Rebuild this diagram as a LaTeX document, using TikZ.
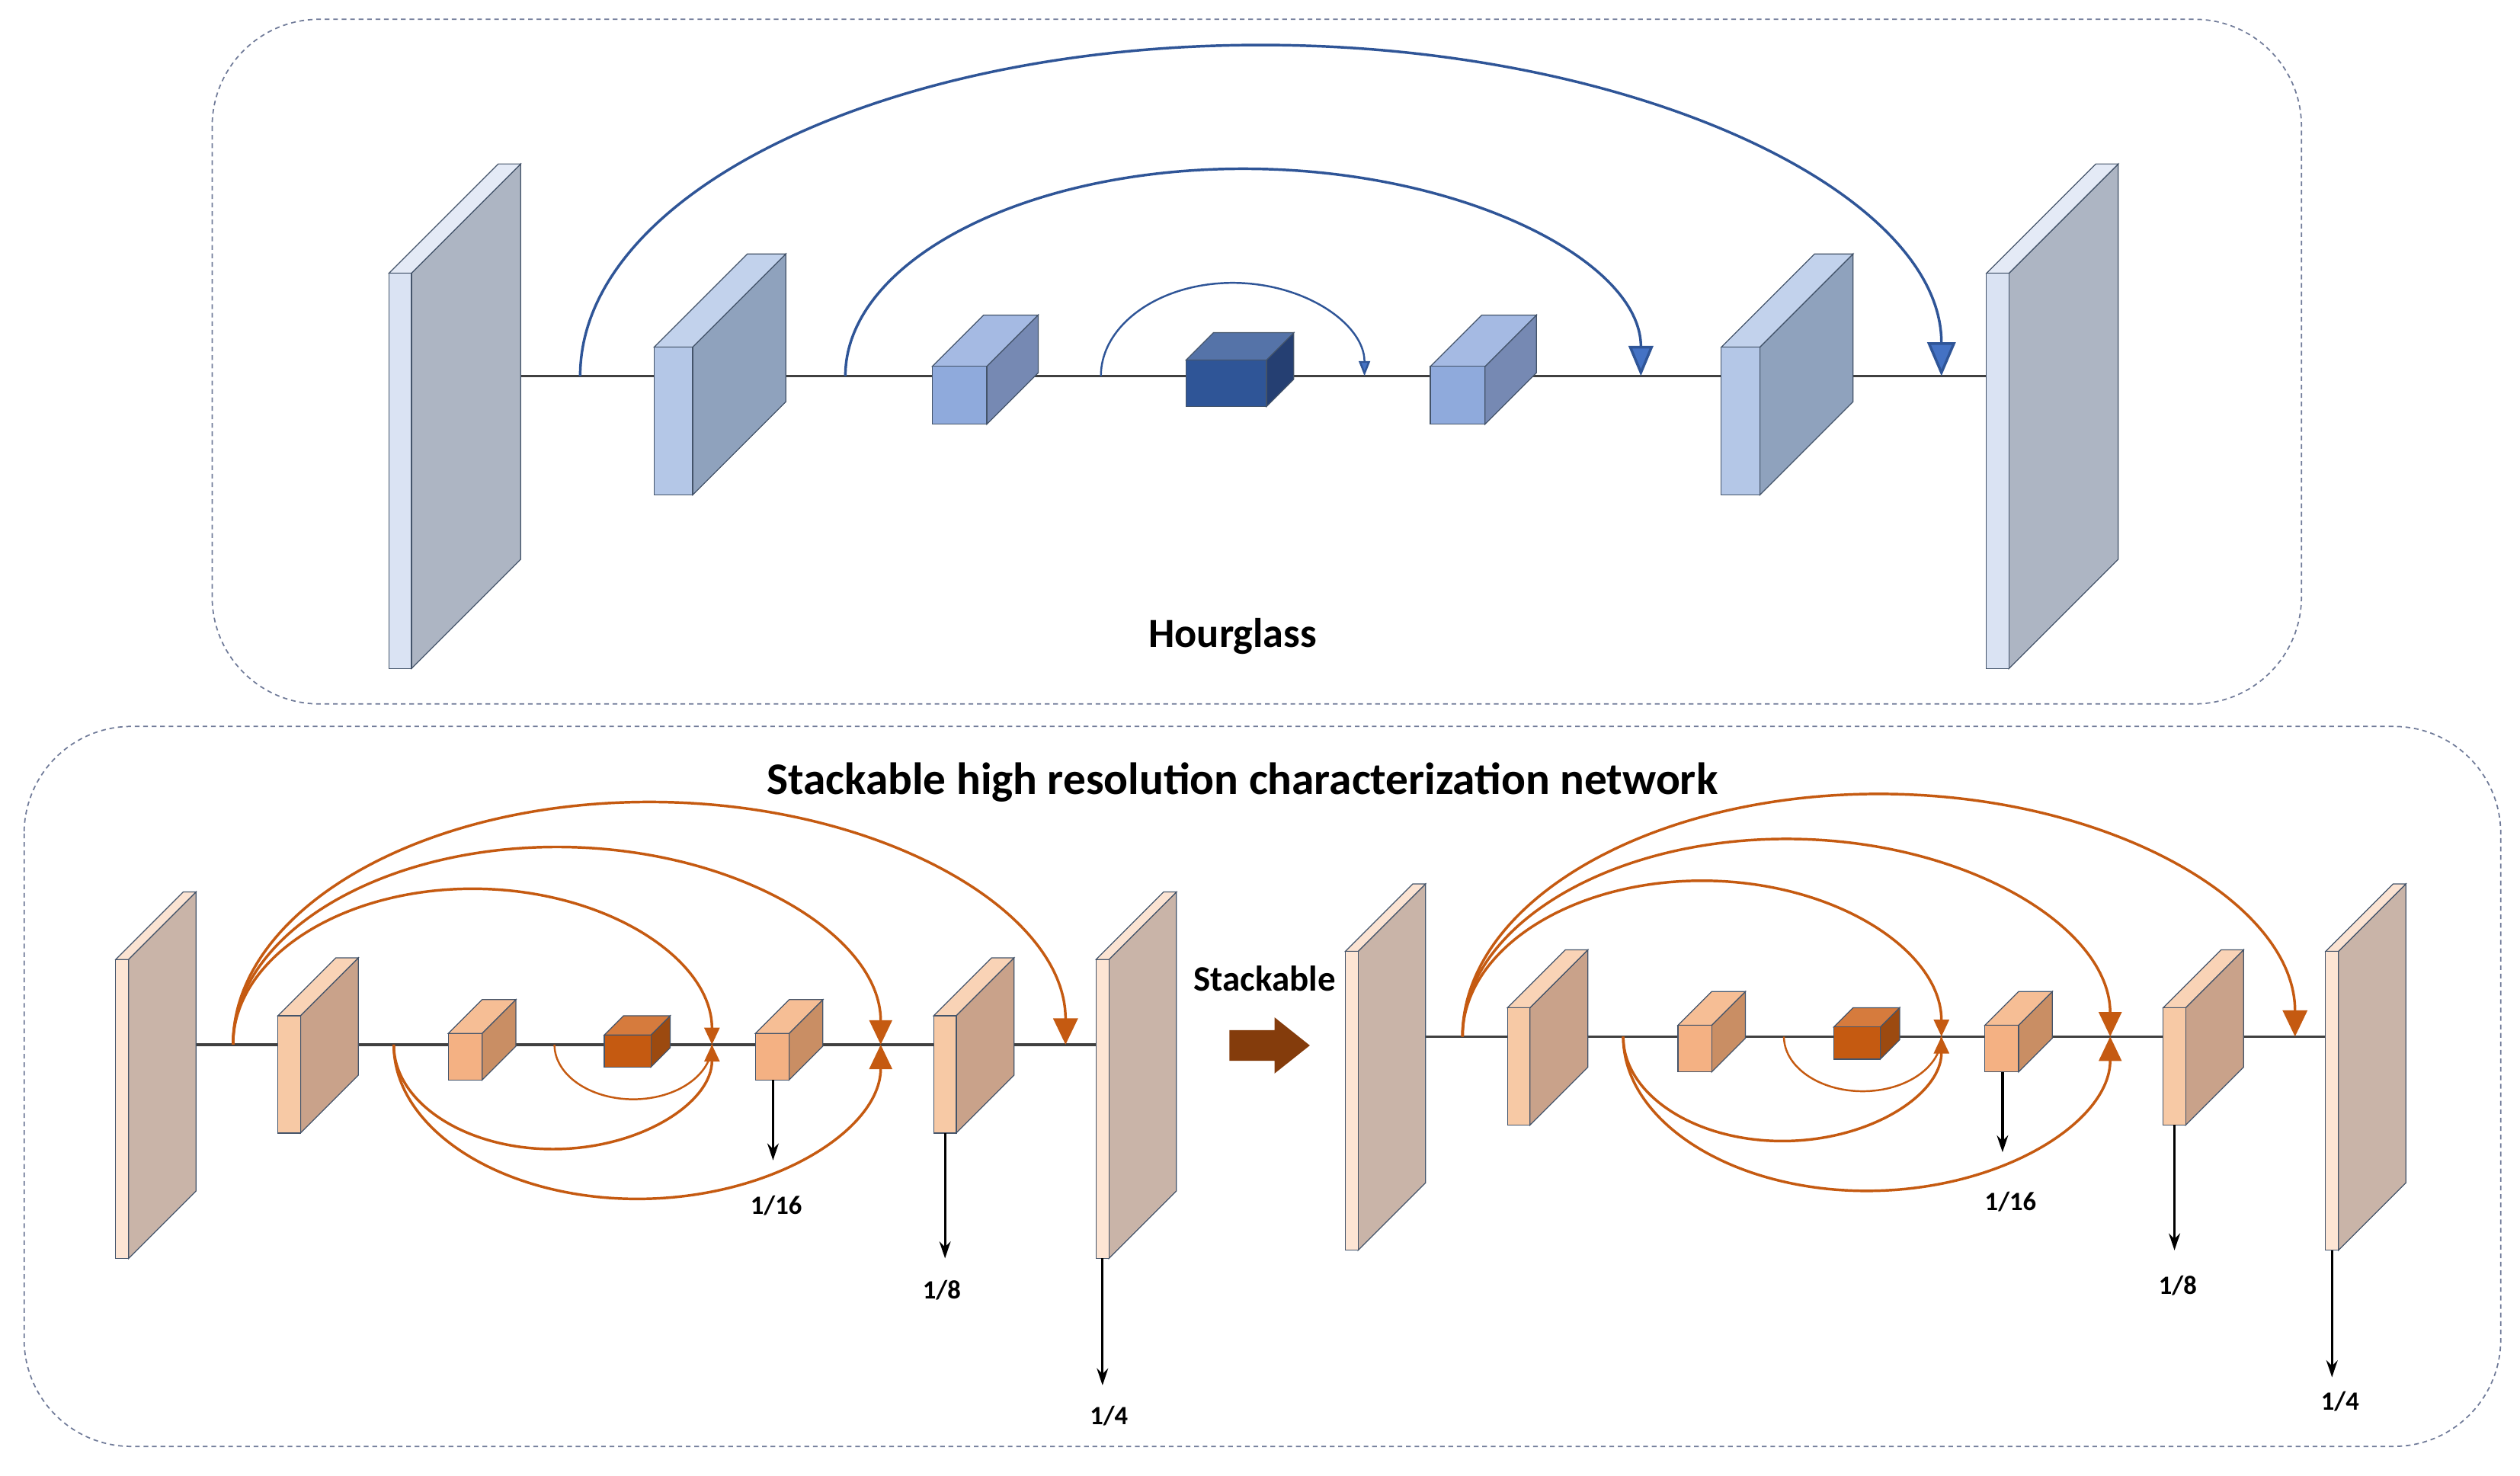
\documentclass[tikz,border=0pt]{standalone}
\usepackage{fontspec}
\setmainfont{Carlito}
\usetikzlibrary{arrows.meta}
\definecolor{edge}{HTML}{44546A}
\definecolor{bl}{HTML}{2F5597}
\definecolor{blt}{HTML}{4472C4}
\definecolor{org}{HTML}{C55A11}
\definecolor{pan}{HTML}{6F7A98}
\definecolor{stk}{HTML}{843C0C}
\newcommand{\cuboid}[8]{%
  \definecolor{cf}{HTML}{#6}\definecolor{ct}{HTML}{#7}\definecolor{cs}{HTML}{#8}%
  \filldraw[fill=cs,draw=edge,line width=0.5pt] (#3,#2) -- ++(#5,-#5) -- ++(0,#4-#2) -- (#3,#4) -- cycle;
  \filldraw[fill=ct,draw=edge,line width=0.5pt] (#1,#2) -- (#3,#2) -- ++(#5,-#5) -- ++(#1-#3,0) -- cycle;
  \filldraw[fill=cf,draw=edge,line width=0.5pt] (#1,#2) rectangle (#3,#4);}
\tikzset{
  panel/.style={draw=pan,dash pattern=on 2.5pt off 2pt,line width=0.7pt,rounded corners=2cm},
  axis/.style={draw=black!75,line width=1.3pt},
  barc/.style={draw=bl,line width=1.4pt},
  oarc/.style={draw=org,line width=1.4pt},
  down/.style={draw=black,line width=1.3pt,-{Stealth[length=9pt,width=6pt]}},
  lbl/.style={font=\bfseries\fontsize{14}{16}\selectfont},
}
\begin{document}
\begin{tikzpicture}[x=0.03cm,y=-0.03cm]
\useasboundingbox (0,0) rectangle (1568,918);
% ---------- top panel
\draw[panel] (132,12) rectangle (1432,438);
\coordinate (tl) at (324,234); \coordinate (tr) at (1236,234);
\draw[axis] (tl) -- (tr);
\cuboid{242}{170}{256}{416}{68}{DAE3F3}{E4EAF6}{ADB5C3}
\cuboid{407}{216}{431}{308}{58}{B4C7E7}{C2D2EC}{8FA2BD}
\cuboid{580}{228}{614}{264}{32}{8FAADC}{A5BAE3}{7689B3}
\cuboid{738}{224}{788}{253}{17}{2F5597}{5573A8}{253F72}
\cuboid{890}{228}{924}{264}{32}{8FAADC}{A5BAE3}{7689B3}
\cuboid{1071}{216}{1095}{308}{58}{B4C7E7}{C2D2EC}{8FA2BD}
\cuboid{1236}{170}{1250}{416}{68}{DAE3F3}{E4EAF6}{ADB5C3}
\coordinate (a1) at (361,234); \coordinate (a2) at (526,234); \coordinate (a3) at (685,234);
\draw[barc,-{Triangle[length=18pt,width=15pt,fill=blt]}] (a1) arc[start angle=180,end angle=360,x radius=423.5,y radius=206];
\draw[barc,-{Triangle[length=16pt,width=13pt,fill=blt]}] (a2) arc[start angle=180,end angle=360,x radius=247.5,y radius=129];
\draw[barc,line width=1pt,-{Triangle[length=8pt,width=6pt,fill=blt]}] (a3) arc[start angle=180,end angle=360,x radius=82,y radius=58];
\node[font=\bfseries\fontsize{22}{24}\selectfont] (hg) at (767,396) {Hourglass};
% ---------- bottom panel
\draw[panel] (15,452) rectangle (1556,900);
\node[font=\bfseries\fontsize{24}{26}\selectfont] (title) at (773,487) {Stackable high resolution characterization network};
\foreach \sx/\sy in {0/0,765/-5}{
\begin{scope}[shift={(\sx,\sy)}]
\draw[axis] (122,650) -- (682,650);
\cuboid{72}{597}{80}{783}{42}{FDE5D4}{FBE3D2}{C9B4A8}
\cuboid{173}{632}{187}{705}{36}{F7C9A5}{F9D3B6}{C9A28A}
\cuboid{279}{643}{300}{672}{21}{F4B183}{F6BE95}{C98E64}
\cuboid{376}{644}{405}{664}{12}{C55A11}{D67B3D}{9C4A10}
\cuboid{470}{643}{491}{672}{21}{F4B183}{F6BE95}{C98E64}
\cuboid{581}{632}{595}{705}{36}{F7C9A5}{F9D3B6}{C9A28A}
\cuboid{682}{597}{690}{783}{42}{FDE5D4}{FBE3D2}{C9B4A8}
\draw[oarc,-{Triangle[length=9pt,width=8pt,fill=org]}] (145,650) arc[start angle=180,end angle=360,x radius=149,y radius=97];
\draw[oarc,-{Triangle[length=13pt,width=12pt,fill=org]}] (145,650) arc[start angle=180,end angle=360,x radius=201.5,y radius=123];
\draw[oarc,-{Triangle[length=14pt,width=13pt,fill=org]}] (145,650) arc[start angle=180,end angle=360,x radius=259,y radius=151];
\draw[oarc,line width=1pt] (345,650) arc[start angle=180,end angle=0,x radius=49,y radius=34];
\draw[oarc,-{Triangle[length=9pt,width=8pt,fill=org]}] (245,650) arc[start angle=180,end angle=0,x radius=99,y radius=65];
\draw[oarc,-{Triangle[length=13pt,width=12pt,fill=org]}] (245,650) arc[start angle=180,end angle=0,x radius=151.5,y radius=96];
\draw[down] (481,672) -- (481,722);
\draw[down] (588,705) -- (588,783);
\draw[down] (686,783) -- (686,862);
\end{scope}}
\node[lbl] (l16a) at (483,750) {1/16};
\node[lbl] (l8a) at (586,803) {1/8};
\node[lbl] (l4a) at (690,881) {1/4};
\node[lbl] (l16b) at (1251,748) {1/16};
\node[lbl] (l8b) at (1355,800) {1/8};
\node[lbl] (l4b) at (1456,872) {1/4};
\node[font=\bfseries\fontsize{19}{21}\selectfont] (st) at (787,609) {Stackable};
\fill[stk] (765,641) -- (793,641) -- (793,633) -- (815,650.5) -- (793,668) -- (793,660) -- (765,660) -- cycle;
\end{tikzpicture}
\end{document}
